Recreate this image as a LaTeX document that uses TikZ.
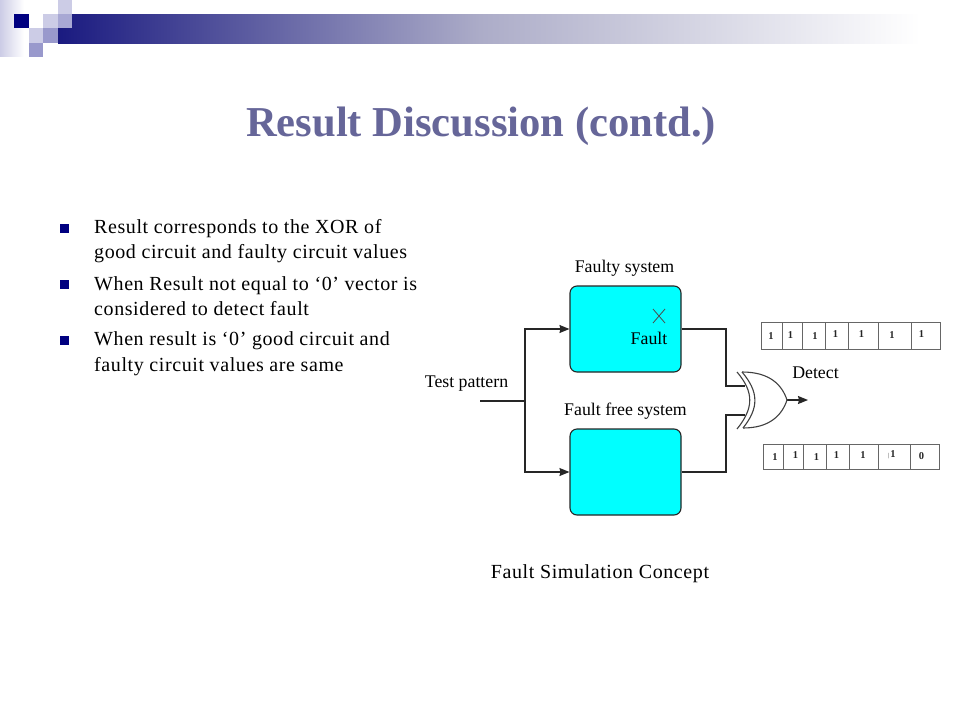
\documentclass[tikz,border=0pt]{standalone}
\usepackage{fontspec}
\setmainfont{Liberation Serif}
\newfontfamily\slidefont[LetterSpace=3]{Liberation Serif}
\usetikzlibrary{arrows.meta,calc}
\definecolor{navy}{HTML}{000080}
\definecolor{bandstart}{HTML}{1A1A80}
\definecolor{bandmid}{HTML}{ACACC8}
\definecolor{lightsq}{HTML}{CCCCE6}
\definecolor{midsq}{HTML}{9999CC}
\definecolor{titlec}{HTML}{666699}
\definecolor{cyanbox}{HTML}{00FFFF}
\tikzset{
  sysbox/.style={draw=black!85,line width=1.1pt,fill=cyanbox,rounded corners=7pt,minimum width=111pt,minimum height=86pt,inner sep=0pt},
  wire/.style={draw=black!85,line width=1.2pt},
  arrowwire/.style={wire,-{Stealth[length=10pt,width=8pt,inset=1pt]}},
  gate/.style={draw=black!75,line width=1.1pt},
  label/.style={inner sep=0pt,font=\fontsize{17.8}{20}\selectfont,text=black},
  slide/.style={inner sep=0pt,anchor=base west,font=\slidefont\fontsize{20}{24}\selectfont,text=black},
  bulletsq/.style={fill=navy,minimum size=9pt,inner sep=0pt},
  cell/.style={draw=black!60,line width=0.9pt},
  digit/.style={inner sep=0pt,font=\bfseries\fontsize{10.5}{12}\selectfont,text=black!85}
}
\begin{document}
\begin{tikzpicture}[x=1pt,y=-1pt]
\useasboundingbox (0,0) rectangle (960,720);
\fill[white] (0,0) rectangle (960,720);
% header
\shade[left color=lightsq,right color=white] (0,0) rectangle (24,56);
\shade[left color=bandstart,right color=bandmid] (58,14) rectangle (480,43);
\shade[left color=bandmid,right color=white] (479.5,14) rectangle (920,43);
\fill[white] (29,14) rectangle (58,28);
\fill[navy] (14,14) rectangle (29,28);
\fill[lightsq] (43,14) rectangle (58,28);
\fill[lightsq] (58,0) rectangle (72,14);
\fill[midsq!85!white] (58,14) rectangle (72,28);
\fill[lightsq] (29,28) rectangle (43,43);
\fill[midsq] (43,28) rectangle (58,43);
\fill[midsq] (29,43) rectangle (43,57);
% title
\node[inner sep=0pt,anchor=base,text=titlec,font=\bfseries\fontsize{42.6}{46}\selectfont] (title) at (481,136) {Result Discussion (contd.)};
% bullets
\node[bulletsq] (b1) at (64,228) {};
\node[bulletsq] (b2) at (64,284) {};
\node[bulletsq] (b3) at (64,340) {};
\node[slide] (t1a) at (94,233.5) {Result corresponds to the XOR of};
\node[slide] (t1b) at (94,258.5) {good circuit and faulty circuit values};
\node[slide] (t2a) at (94,290) {When Result not equal to ‘0’ vector is};
\node[slide] (t2b) at (94,315.5) {considered to detect fault};
\node[slide] (t3a) at (94,345.5) {When result is ‘0’ good circuit and};
\node[slide] (t3b) at (94,371.5) {faulty circuit values are same};
% boxes
\node[sysbox] (faulty) at (625.5,329) {};
\node[sysbox] (free) at (625.5,472) {};
\node[label] (lfaulty) at (624.5,268) {Faulty system};
\node[label] (lfree) at (625.5,411) {Fault free system};
\node[label] (lfault) at (649,338) {Fault};
\node[label] (ltest) at (466.5,384) {Test pattern};
\node[label] (ldetect) at (815.5,373) {Detect};
\node[inner sep=0pt,font=\slidefont\fontsize{20}{24}\selectfont] (caption) at (600,574) {Fault Simulation Concept};
\draw[black!70,line width=0.8pt] (653,309) -- (665,323) (665,309) -- (653,323);
% wires
\coordinate (in) at (480,401);
\coordinate (split) at (525,401);
\coordinate (g1) at (745,386);
\coordinate (g2) at (745,415);
\coordinate (gout) at (787,400);
\coordinate (det) at (808,400);
\draw[wire] (in) -- (split);
\draw[arrowwire] (split) -- (525,329) -- (faulty.west);
\draw[arrowwire] (split) -- (525,472) -- (free.west);
\draw[wire] (faulty.east) -- (726,329) -- (726,386) -- (g1);
\draw[wire] (free.east) -- (726,472) -- (726,415) -- (g2);
\draw[arrowwire] (gout) -- (det);
% XOR gate
\draw[gate] (742,372) .. controls (770,372) and (782,385) .. (gout);
\draw[gate] (743,428) .. controls (770,428) and (782,415) .. (gout);
\draw[gate] (742,372) .. controls (759,392) and (759,408) .. (743,428);
\draw[gate] (737,372) .. controls (754,392) and (754,408) .. (737,429);
% top register
\draw[cell] (761,322) rectangle (940,349);
\foreach \x in {782,802,825,848,878,911} \draw[cell] (\x,322) -- (\x,349);
\node[digit] (a1) at (771,336) {1};
\node[digit] (a2) at (790.5,335) {1};
\node[digit] (a3) at (815,336) {1};
\node[digit] (a4) at (835.5,334) {1};
\node[digit] (a5) at (861.5,334) {1};
\node[digit] (a6) at (892,335) {1};
\node[digit] (a7) at (921.5,334) {1};
% bottom register
\draw[cell] (763,444) rectangle (939,469);
\foreach \x in {783,803,826,849,878,910} \draw[cell] (\x,444) -- (\x,469);
\node[digit] (c1) at (775,457) {1};
\node[digit] (c2) at (795.5,455) {1};
\node[digit] (c3) at (816.5,457) {1};
\node[digit] (c4) at (836.5,455) {1};
\node[digit] (c5) at (863,455) {1};
\node[digit] (c6) at (892,455) {\textmd{\fontsize{6}{6}\selectfont\textbar}\hspace{1pt}1};
\node[digit] (c7) at (921.5,456) {0};
\end{tikzpicture}
\end{document}
